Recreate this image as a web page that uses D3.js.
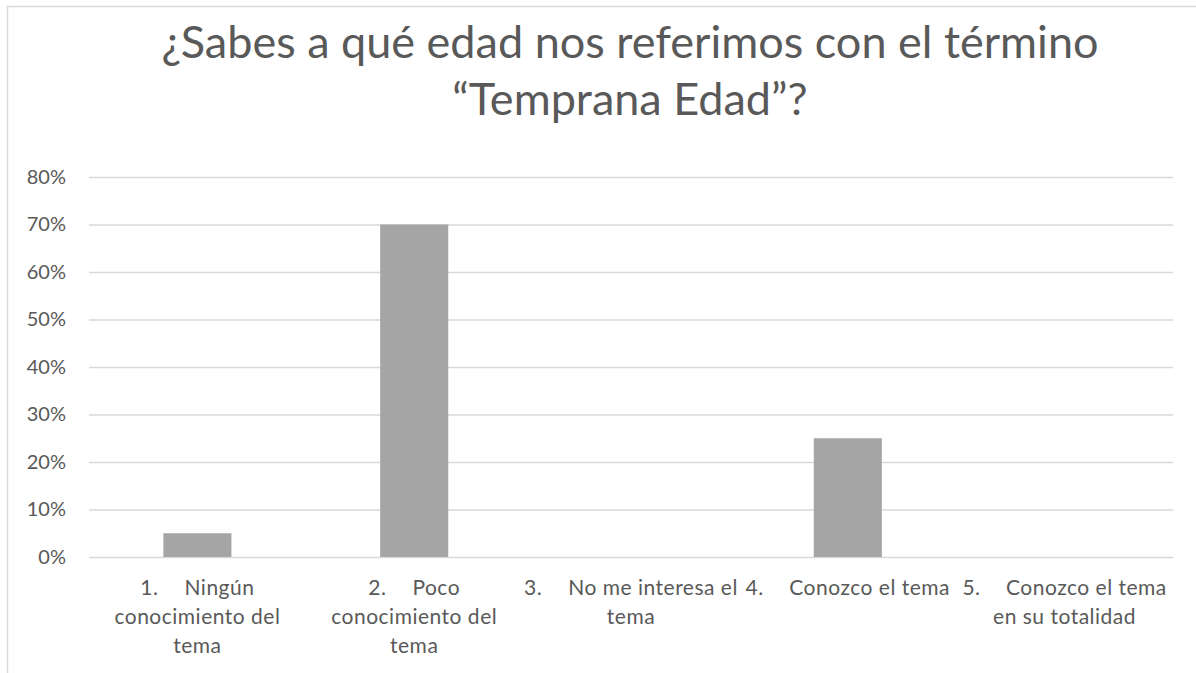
<!DOCTYPE html>
<html>
<head>
<meta charset="utf-8">
<script src="https://cdn.jsdelivr.net/npm/d3@7"></script>
<style>
  body { margin: 0; background: #fff; }
  svg { display: block; }
  text { font-family: Lato, "Open Sans", sans-serif; fill: #595959; }
</style>
</head>
<body>
<div id="chart"></div>
<script>
// data
var titleLines = ["¿Sabes a qué edad nos referimos con el término", "“Temprana Edad”?"];
var categories = ["c1", "c2", "c3", "c4", "c5"];
var labelNumbers = ["1.", "2.", "3.", "4.", "5."];
var labelLines = [
  ["Ningún", "conocimiento del", "tema"],
  ["Poco", "conocimiento del", "tema"],
  ["No me interesa el", "tema"],
  ["Conozco el tema"],
  ["Conozco el tema", "en su totalidad"]
];
var values = [0.05, 0.70, 0, 0.25, 0];
var yTicks = [0, 0.1, 0.2, 0.3, 0.4, 0.5, 0.6, 0.7, 0.8];

var width = 1196, height = 673;
var plot = { left: 89, right: 1173, top: 177, bottom: 557 };

var svg = d3.select("#chart").append("svg")
  .attr("width", width)
  .attr("height", height);

// chart frame (cut off at right and bottom like the screenshot)
svg.append("rect")
  .attr("x", 7.5).attr("y", 6.5)
  .attr("width", 1400).attr("height", 900)
  .attr("fill", "none")
  .attr("stroke", "#d9d9d9")
  .attr("stroke-width", 1.5);

// title
var title = svg.append("text")
  .attr("text-anchor", "middle")
  .style("font-size", "45px");
title.selectAll("tspan")
  .data(titleLines)
  .enter().append("tspan")
  .attr("x", 630)
  .attr("y", (d, i) => 58 + i * 57)
  .text(d => d);

var x = d3.scaleBand()
  .domain(categories)
  .range([plot.left, plot.right])
  .paddingInner(0.686)
  .paddingOuter(0.343);

var y = d3.scaleLinear()
  .domain([0, 0.8])
  .range([plot.bottom, plot.top]);

// y axis + gridlines
var yAxis = svg.append("g")
  .attr("transform", "translate(" + plot.left + ",0)")
  .call(d3.axisLeft(y)
    .tickValues(yTicks)
    .tickFormat(d3.format(".0%"))
    .tickSize(-(plot.right - plot.left))
    .tickPadding(23));

yAxis.select(".domain").remove();
yAxis.selectAll(".tick line")
  .attr("stroke", "#d9d9d9")
  .attr("stroke-width", 1.5);
yAxis.selectAll(".tick text")
  .attr("fill", "#595959")
  .style("font-family", "Lato, sans-serif")
  .style("font-size", "20px");

// bars
svg.append("g").selectAll("rect")
  .data(values)
  .enter().append("rect")
  .attr("x", (d, i) => x(categories[i]))
  .attr("y", d => y(d))
  .attr("width", x.bandwidth())
  .attr("height", d => y(0) - y(d))
  .attr("fill", "#a5a5a5");

// category labels
var labels = svg.append("g").selectAll("text")
  .data(categories)
  .enter().append("text")
  .attr("text-anchor", "middle")
  .style("font-size", "21px")
  .style("letter-spacing", "0.5px");

labels.each(function (c, i) {
  var t = d3.select(this);
  var cx = x(c) + x.bandwidth() / 2;
  labelLines[i].forEach(function (line, j) {
    if (j === 0) {
      t.append("tspan").attr("x", cx).attr("y", plot.bottom + 38).text(labelNumbers[i]);
      t.append("tspan").attr("dx", 26).text(line);
    } else {
      t.append("tspan").attr("x", cx).attr("y", plot.bottom + 38 + j * 29).text(line);
    }
  });
});
</script>
</body>
</html>
